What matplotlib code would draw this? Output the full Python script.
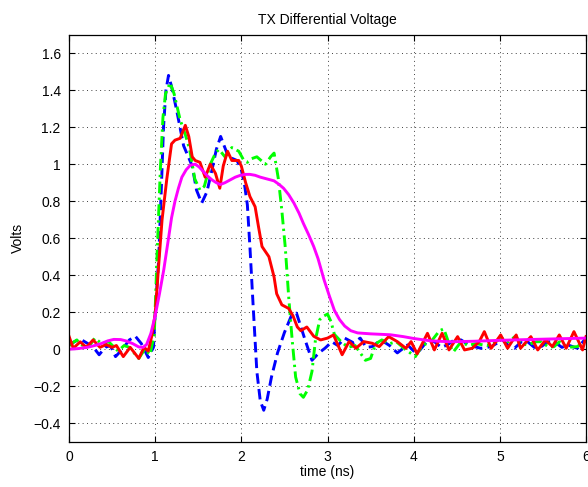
import matplotlib
matplotlib.use("Agg")
import matplotlib.pyplot as plt

plt.rcParams['font.family'] = ['Liberation Sans', 'DejaVu Sans']

title = "TX Differential Voltage"
xlabel = "time (ns)"
ylabel = "Volts"
xticks = [0, 1, 2, 3, 4, 5, 6]
yticks = [-0.4, -0.2, 0, 0.2, 0.4, 0.6, 0.8, 1, 1.2, 1.4, 1.6]
ytick_labels = ["\u22120.4", "\u22120.2", "0", "0.2", "0.4", "0.6", "0.8", "1", "1.2", "1.4", "1.6"]

blue_t = [0, 0.06, 0.13, 0.22, 0.30, 0.35, 0.42, 0.48, 0.54, 0.62, 0.70, 0.77, 0.84, 0.92, 0.98,
          1.00, 1.04, 1.07, 1.097, 1.125, 1.155, 1.19, 1.25, 1.33, 1.43, 1.48, 1.54, 1.60, 1.66,
          1.71, 1.76, 1.80, 1.85, 1.95, 2.00, 2.04, 2.07, 2.10, 2.14, 2.18, 2.22, 2.26, 2.30,
          2.35, 2.42, 2.50, 2.58, 2.64, 2.74, 2.82, 2.90, 2.97, 3.05, 3.12, 3.20, 3.30, 3.38,
          3.45, 3.52, 3.62, 3.72, 3.81, 3.93, 4.00, 4.06, 4.15, 4.24, 4.32, 4.39, 4.47, 4.55,
          4.65, 4.78, 4.90, 5.03, 5.10, 5.17, 5.25, 5.32, 5.40, 5.48, 5.56, 5.63, 5.72, 5.79,
          5.90, 6.0]
blue_v = [0.02, 0.04, 0.055, 0.03, 0.00, -0.03, 0.01, 0.02, -0.04, 0.00, 0.05, 0.07, 0.03, -0.045, 0.01,
          0.19, 0.48, 0.85, 1.20, 1.40, 1.48, 1.42, 1.29, 1.10, 0.99, 0.86, 0.79, 0.85, 0.97,
          1.08, 1.15, 1.10, 1.04, 1.02, 0.97, 0.88, 0.78, 0.55, 0.21, -0.12, -0.28, -0.33, -0.27,
          -0.15, -0.02, 0.09, 0.18, 0.195, 0.05, -0.06, -0.02, 0.005, 0.04, 0.02, 0.06, 0.035, 0.06,
          0.01, 0.014, 0.05, 0.02, -0.02, 0.023, -0.01, -0.012, 0.04, 0.041, 0.01, 0.023, 0.05, 0.05,
          0.02, 0.005, 0.014, 0.05, 0.02, 0.005, 0.04, 0.041, 0.01, 0.014, 0.04, 0.041, 0.01, 0.023,
          0.005, 0.06]

green_t = [0, 0.09, 0.18, 0.24, 0.30, 0.38, 0.46, 0.57, 0.64, 0.70, 0.81, 0.88, 0.94, 0.99,
           1.02, 1.06, 1.09, 1.12, 1.174, 1.22, 1.29, 1.35, 1.40, 1.43, 1.46, 1.52, 1.57, 1.64,
           1.70, 1.74, 1.81, 1.89, 1.97, 2.03, 2.07, 2.12, 2.18, 2.28, 2.34, 2.38, 2.43, 2.47,
           2.51, 2.55, 2.59, 2.63, 2.68, 2.72, 2.77, 2.82, 2.86, 2.91, 2.96, 3.00, 3.04, 3.08,
           3.16, 3.24, 3.32, 3.44, 3.50, 3.56, 3.63, 3.72, 3.80, 3.90, 4.02, 4.10, 4.20, 4.30,
           4.35, 4.41, 4.46, 4.55, 4.63, 4.72, 4.85, 4.95, 5.02, 5.10, 5.18, 5.25, 5.32, 5.42,
           5.48, 5.57, 5.63, 5.69, 5.79, 5.90, 6.0]
green_v = [0.02, 0.05, 0.01, 0.02, 0.06, 0.03, 0.04, -0.01, 0.02, 0.01, -0.05, 0.0, -0.03, 0.08,
           0.48, 0.97, 1.25, 1.38, 1.44, 1.38, 1.24, 1.16, 1.08, 1.0, 0.92, 0.86, 0.88, 1.0,
           1.06, 1.08, 1.04, 1.09, 1.07, 1.02, 1.01, 1.03, 1.04, 1.0, 1.04, 1.06, 0.92, 0.75,
           0.55, 0.28, 0.05, -0.15, -0.24, -0.26, -0.22, -0.12, 0.05, 0.16, 0.18, 0.19, 0.15, 0.08,
           0.04, 0.01, 0.02, -0.06, -0.05, 0.03, 0.05, 0.03, 0.04, 0.0, -0.04, 0.02, 0.04, 0.10,
           0.11, 0.03, -0.015, 0.04, 0.02, 0.03, 0.02, 0.04, 0.06, 0.04, 0.07, 0.03, 0.023, 0.04,
           0.041, 0.01, 0.014, 0.04, 0.01, 0.014, 0.05]

red_t = [0, 0.05, 0.13, 0.20, 0.28, 0.36, 0.43, 0.50, 0.55, 0.63, 0.71, 0.81, 0.87, 0.92, 0.96,
         1.00, 1.04, 1.08, 1.135, 1.19, 1.23, 1.29, 1.35, 1.39, 1.43, 1.465, 1.52, 1.58, 1.64,
         1.70, 1.75, 1.79, 1.84, 1.89, 1.97, 2.00, 2.05, 2.10, 2.16, 2.20, 2.24, 2.32, 2.38,
         2.41, 2.47, 2.55, 2.60, 2.65, 2.69, 2.76, 2.84, 2.92, 3.00, 3.07, 3.17, 3.25, 3.33,
         3.42, 3.52, 3.60, 3.71, 3.81, 3.91, 3.97, 4.04, 4.10, 4.16, 4.24, 4.33, 4.41, 4.51,
         4.59, 4.68, 4.76, 4.82, 4.90, 5.01, 5.09, 5.19, 5.24, 5.36, 5.44, 5.53, 5.61, 5.69,
         5.77, 5.86, 5.96, 6.0]
red_v = [0.07, 0.005, 0.04, 0.01, 0.05, 0.01, 0.025, 0.01, 0.02, -0.04, 0.01, -0.05, 0.01, -0.01, 0.07,
         0.19, 0.45, 0.70, 0.92, 1.11, 1.13, 1.14, 1.21, 1.15, 1.04, 1.02, 1.01, 0.93, 1.0,
         0.95, 0.87, 0.99, 1.07, 1.02, 1.02, 0.99, 0.90, 0.825, 0.77, 0.66, 0.555, 0.50, 0.39,
         0.30, 0.24, 0.22, 0.18, 0.12, 0.10, 0.12, 0.07, 0.05, 0.06, 0.077, -0.03, 0.041, 0.005,
         0.041, 0.032, 0.014, 0.068, 0.041, 0.005, 0.041, -0.025, 0.03, 0.086, -0.004, 0.086, -0.004, 0.068,
         -0.004, 0.005, 0.04, 0.095, 0.005, 0.077, 0.005, 0.077, 0.005, 0.068, -0.004, 0.05, 0.014, 0.077,
         0.005, 0.095, -0.004, 0.068]

mag_t = [0, 0.10, 0.21, 0.30, 0.37, 0.45, 0.52, 0.60, 0.66, 0.74, 0.81, 0.86, 0.90, 0.95,
         1.00, 1.05, 1.10, 1.155, 1.19, 1.23, 1.27, 1.31, 1.36, 1.41, 1.465, 1.51, 1.56, 1.61,
         1.66, 1.71, 1.755, 1.81, 1.87, 1.93, 1.99, 2.05, 2.10, 2.16, 2.22, 2.30, 2.38, 2.44,
         2.49, 2.55, 2.61, 2.67, 2.72, 2.78, 2.84, 2.89, 2.96, 3.02, 3.08, 3.14, 3.20, 3.27,
         3.35, 3.50, 3.73, 3.88, 4.00, 4.20, 4.43, 4.70, 5.00, 5.40, 6.0]
mag_v = [0.0, 0.003, 0.01, 0.02, 0.03, 0.045, 0.053, 0.052, 0.045, 0.03, 0.012, 0.01, 0.025, 0.085,
         0.18, 0.30, 0.43, 0.60, 0.71, 0.80, 0.87, 0.93, 0.97, 0.995, 1.0, 0.985, 0.96, 0.935,
         0.915, 0.90, 0.89, 0.90, 0.915, 0.93, 0.94, 0.945, 0.945, 0.94, 0.93, 0.92, 0.91, 0.89,
         0.87, 0.835, 0.79, 0.735, 0.68, 0.62, 0.555, 0.49, 0.375, 0.29, 0.21, 0.16, 0.125, 0.10,
         0.088, 0.083, 0.078, 0.068, 0.058, 0.045, 0.04, 0.043, 0.048, 0.053, 0.06]

fig = plt.figure(figsize=(5.88, 4.87), dpi=100)
ax = fig.add_axes([69/588, 1 - 441.7/487, (586-69)/588, (441.7-34.7)/487])

common = dict(lw=2.1, solid_joinstyle='round', dash_joinstyle='round', dash_capstyle='butt')
ax.plot(blue_t, blue_v, color='#0000ff', linestyle=(0, (3.6, 1.8)), **common)
ax.plot(green_t, green_v, color='#00ff00', linestyle=(0, (4.0, 1.5, 0.8, 1.5)), **common)
ax.plot(red_t, red_v, color='#ff0000', linestyle='-', **common)
ax.plot(mag_t, mag_v, color='#ff00ff', linestyle='-', **common)

ax.set_xlim(0, 6)
ax.set_ylim(-0.5, 1.7)
ax.set_xticks(xticks)
ax.set_xticklabels([str(x) for x in xticks])
ax.set_yticks(yticks)
ax.set_yticklabels(ytick_labels)
ax.tick_params(direction='in', top=True, right=True, length=4, width=0.8, labelsize=10, pad=6)
ax.grid(True, color='0.25', linestyle=(0, (1, 3.5)), linewidth=0.7)
for s in ax.spines.values():
    s.set_linewidth(0.9)
ax.set_title(title, fontsize=10, pad=8)
ax.set_xlabel(xlabel, fontsize=10, labelpad=1)
ax.set_ylabel(ylabel, fontsize=10, labelpad=6)

fig.savefig("out.png", dpi=100)
